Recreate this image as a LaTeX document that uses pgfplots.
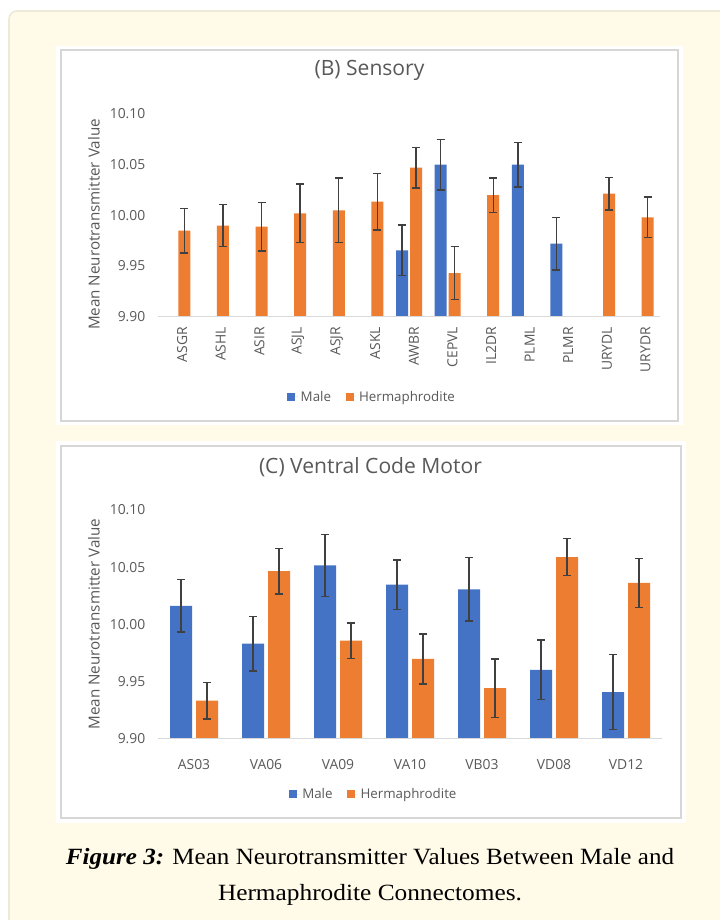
\documentclass[border=0pt]{standalone}
\usepackage{fontspec}
\setmainfont{Open Sans}
\newfontfamily\capfont{Liberation Serif}
\usepackage{graphicx}
\usepackage{pgfplots}
\pgfplotsset{compat=1.18}
\usepackage{pgfplotstable}

\definecolor{mblue}{HTML}{4472C4}
\definecolor{morange}{HTML}{ED7D31}
\definecolor{txtgray}{HTML}{595959}
\definecolor{errgray}{HTML}{404040}
\definecolor{basegray}{HTML}{D9D9D9}
\definecolor{cream}{HTML}{FFFBE8}
\definecolor{creamborder}{HTML}{EEEADA}
\definecolor{panelborder}{HTML}{D6D6D6}

\newcommand\ticksize{\fontsize{10.4}{12}\selectfont}
\newcommand\legsize{\fontsize{10}{12}\selectfont}
\newcommand\titlesize{\fontsize{15.8}{19}\selectfont}
\newcommand\ylabsize{\fontsize{11.4}{13}\selectfont}

% Sensory (B)
\pgfplotstableread{
x y e
6 9.9655 0.025
7 10.050 0.025
9 10.050 0.022
10 9.972 0.026
}\sensM
\pgfplotstableread{
x y e
0 9.985 0.022
1 9.990 0.021
2 9.989 0.024
3 10.002 0.029
4 10.005 0.032
5 10.0135 0.028
6 10.047 0.020
7 9.943 0.026
8 10.020 0.017
11 10.0214 0.016
12 9.998 0.020
}\sensH

% Ventral Code Motor (C)
\pgfplotstableread{
x y e
0 10.016 0.023
1 9.983 0.024
2 10.0515 0.027
3 10.0346 0.0216
4 10.0305 0.0277
5 9.960 0.026
6 9.9405 0.033
}\ventM
\pgfplotstableread{
x y e
0 9.933 0.016
1 10.0465 0.020
2 9.9855 0.0155
3 9.9695 0.022
4 9.944 0.0255
5 10.0588 0.016
6 10.0362 0.0214
}\ventH

\pgfplotsset{
  excel/.style={
    scale only axis,
    ybar,
    ymin=9.90, ymax=10.10,
    ytick={9.90,9.95,10.00,10.05,10.10},
    /pgf/number format/assume math mode=true,
    yticklabel style={/pgf/number format/fixed,/pgf/number format/fixed zerofill,/pgf/number format/precision=2,
      font=\ticksize, color=txtgray, xshift=-6pt},
    xticklabel style={font=\ticksize, color=txtgray},
    tick style={draw=none},
    axis line style={draw=none},
    ylabel={Mean Neurotransmitter Value},
    ylabel style={font=\ylabsize, color=txtgray, anchor=center},
    title style={font=\titlesize, color=txtgray, anchor=center},
    legend style={draw=none, fill=none, font=\legsize, text=txtgray, legend columns=2,
      /tikz/every even column/.append style={column sep=9pt}},
    legend image code/.code={\fill[#1,draw=none] (0pt,-3pt) rectangle (6pt,3pt); \path (0pt,0pt) -- (8pt,0pt);},
    extra description/.code={\draw[basegray, line width=0.8pt] (axis description cs:0,0) -- (axis description cs:1,0);},
  },
  errs/.style={error bars/.cd, y dir=both, y explicit,
    error bar style={errgray, line width=1.0pt},
    error mark options={errgray, line width=1.0pt, mark size=3pt, rotate=90}},
}

\begin{document}
\begin{tikzpicture}
\begin{scope}[x=0.75pt, y=-0.75pt]
  \path[use as bounding box] (0,0) rectangle (720,920);
  \fill[white] (0,0) rectangle (720,920);
  \draw[fill=cream, draw=creamborder, line width=1.2pt, rounded corners=6pt] (9,11) rectangle (740,960);
  \fill[white] (56,46) rectangle (683,425);
  \draw[panelborder, line width=1.1pt] (61,50) rectangle (678,421);
  \fill[white] (56,441) rectangle (686,823);
  \draw[panelborder, line width=1.1pt] (61,446) rectangle (681,818);
  \node[anchor=base, inner sep=0pt] at (370,864) {\resizebox{456pt}{12.1pt}{\capfont\fontsize{18}{20}\selectfont\textbf{\textit{Figure 3:}} Mean Neurotransmitter Values Between Male and}};
  \node[anchor=base, inner sep=0pt] at (370,900) {\resizebox{228pt}{12.1pt}{\capfont\fontsize{18}{20}\selectfont Hermaphrodite Connectomes.}};
\end{scope}

% (B) Sensory
\begin{axis}[excel,
  at={(118.5pt,-237.525pt)}, anchor=south west,
  width=376.5pt, height=152pt,
  xmin=-0.5, xmax=12.5,
  xtick={0,...,12},
  xticklabels={ASGR,ASHL,ASIR,ASJL,ASJR,ASKL,AWBR,CEPVL,IL2DR,PLML,PLMR,URYDL,URYDR},
  xticklabel style={rotate=90, anchor=east, yshift=-3.6pt},
  ylabel style={at={(axis description cs:-0.1275,0.455)}},
  title={(B) Sensory},
  title style={at={(axis description cs:0.4213,1.1776)}},
  legend style={at={(axis description cs:0.4273,-0.396)}, anchor=center},
]
\addplot[fill=mblue, draw=none, bar width=9pt, bar shift=-5.25pt, errs] table[x=x, y=y, y error=e] {\sensM};
\addlegendentry{Male}
\addplot[fill=morange, draw=none, bar width=9pt, bar shift=5.25pt, errs] table[x=x, y=y, y error=e] {\sensH};
\addlegendentry{Hermaphrodite}
\end{axis}

% (C) Ventral Code Motor
\begin{axis}[excel,
  at={(118.5pt,-553.725pt)}, anchor=south west,
  width=378pt, height=171.2pt,
  xmin=-0.5, xmax=6.5,
  xtick={0,...,6},
  xticklabels={AS03,VA06,VA09,VA10,VB03,VD08,VD12},
  xticklabel style={anchor=north, yshift=-8pt},
  ylabel style={at={(axis description cs:-0.127,0.5)}},
  title={(C) Ventral Code Motor},
  title style={at={(axis description cs:0.4216,1.153)}},
  legend style={at={(axis description cs:0.4286,-0.244)}, anchor=center},
]
\addplot[fill=mblue, draw=none, bar width=16.5pt, bar shift=-9.75pt, errs] table[x=x, y=y, y error=e] {\ventM};
\addlegendentry{Male}
\addplot[fill=morange, draw=none, bar width=16.5pt, bar shift=9.75pt, errs] table[x=x, y=y, y error=e] {\ventH};
\addlegendentry{Hermaphrodite}
\end{axis}
\end{tikzpicture}
\end{document}
